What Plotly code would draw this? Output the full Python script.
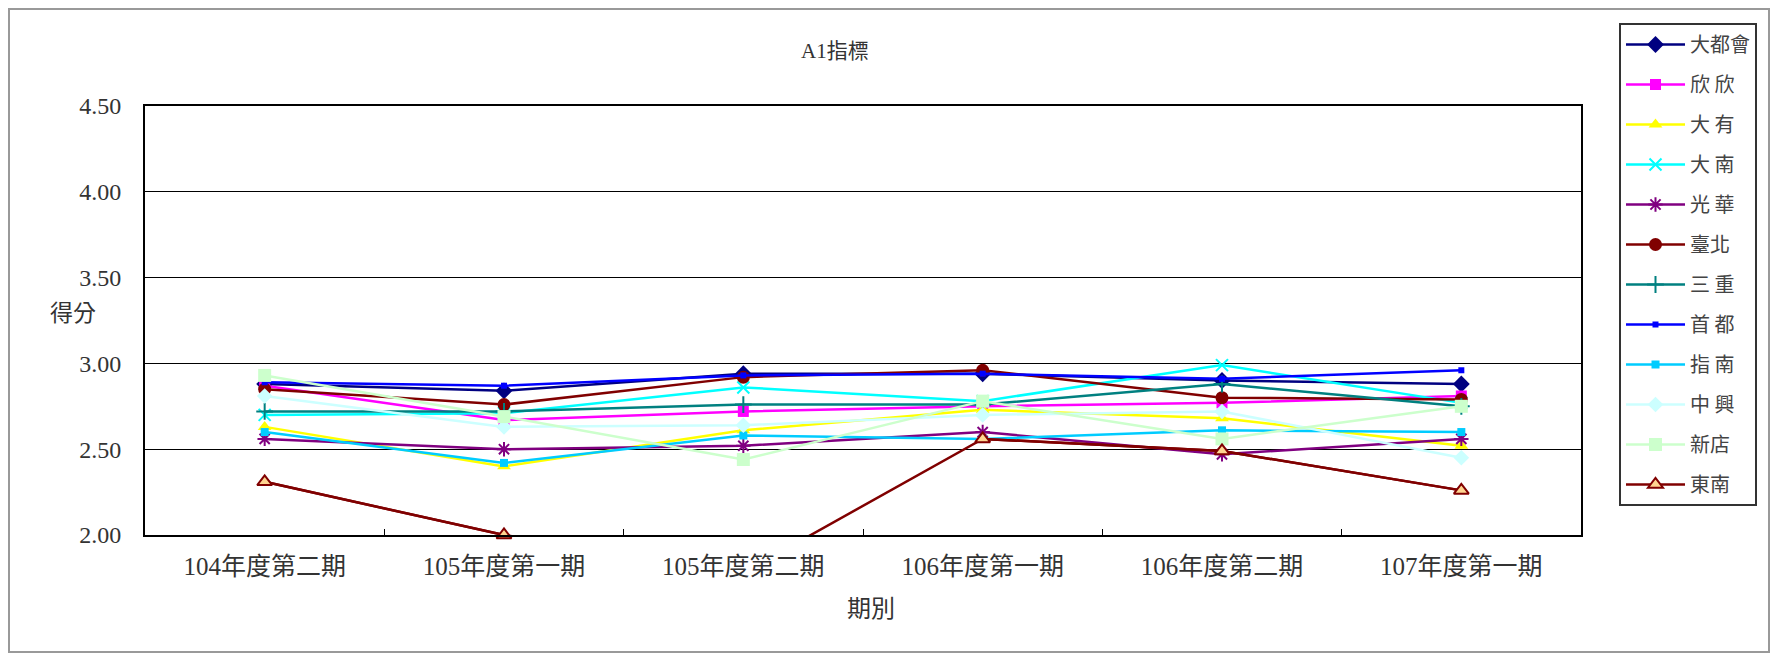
import plotly.graph_objects as go

periods = ["104年度第二期", "105年度第一期", "105年度第二期", "106年度第一期", "106年度第二期", "107年度第一期"]

names = ["大都會", "欣 欣", "大 有", "大 南", "光 華", "臺北", "三 重", "首 都", "指 南", "中 興", "新店", "東南"]

v_dadouhui = [2.88, 2.84, 2.94, 2.94, 2.90, 2.88]
v_xinxin   = [2.87, 2.67, 2.72, 2.75, 2.77, 2.81]
v_dayou    = [2.63, 2.40, 2.61, 2.73, 2.68, 2.52]
v_danan    = [2.70, 2.71, 2.86, 2.78, 2.99, 2.77]
v_guanghua = [2.56, 2.50, 2.52, 2.60, 2.47, 2.56]
v_taipei   = [2.85, 2.76, 2.92, 2.96, 2.80, 2.79]
v_sanchong = [2.72, 2.72, 2.76, 2.76, 2.88, 2.75]
v_shoudu   = [2.89, 2.87, 2.93, 2.94, 2.91, 2.96]
v_zhinan   = [2.60, 2.42, 2.58, 2.56, 2.61, 2.60]
v_zhongxing= [2.81, 2.63, 2.64, 2.70, 2.72, 2.45]
v_xindian  = [2.93, 2.69, 2.44, 2.78, 2.56, 2.75]
v_dongnan  = [2.31, 2.00, 1.78, 2.56, 2.49, 2.26]

series_values = [v_dadouhui, v_xinxin, v_dayou, v_danan, v_guanghua, v_taipei,
                 v_sanchong, v_shoudu, v_zhinan, v_zhongxing, v_xindian, v_dongnan]

colors = ["#000080", "#FF00FF", "#FFFF00", "#00FFFF", "#800080", "#800000",
          "#008080", "#0000FF", "#00CCFF", "#CCFFFF", "#CCFFCC", "#800000"]
symbols = ["diamond", "square", "triangle-up", "x-thin-open", "asterisk-open", "circle",
           "cross-thin-open", "square", "square", "diamond", "square", "triangle-up"]
msizes = [13, 11, 12, 12, 12, 13, 12, 6, 8, 12, 13, 13]

FONT = "Liberation Serif, Noto Sans CJK TC, serif"
TXT = "#333333"

fig = go.Figure()
for i, (nm, vals) in enumerate(zip(names, series_values)):
    col = colors[i]
    sym = symbols[i]
    if nm == "東南":
        fig.add_trace(go.Scatter(x=periods, y=vals, mode="lines",
                                 line=dict(color=col, width=2.5),
                                 showlegend=False, hoverinfo="skip",
                                 cliponaxis=True, legendgroup="g%d" % i))
        shown = [v if v >= 2.0 else None for v in vals]
        fig.add_trace(go.Scatter(x=periods, y=shown, mode="lines+markers", name=nm,
                                 line=dict(color=col, width=2.5),
                                 marker=dict(symbol=sym, size=msizes[i], color="#FFD591",
                                             line=dict(color=col, width=2)),
                                 cliponaxis=False, connectgaps=False, legendgroup="g%d" % i))
    else:
        if sym.endswith("-open"):
            mk = dict(symbol=sym, size=msizes[i], color=col, line=dict(color=col, width=2))
        else:
            mk = dict(symbol=sym, size=msizes[i], color=col, line=dict(width=0))
        fig.add_trace(go.Scatter(x=periods, y=vals, mode="lines+markers", name=nm,
                                 line=dict(color=col, width=2.5), marker=mk,
                                 legendgroup="g%d" % i))

# page has an 8px body margin; work in page coordinates and shift
OFF = 8
W, H = 1778 - 2 * OFF, 661 - 2 * OFF
L, R, T, B = 145 - OFF, 1581 - OFF, 106 - OFF, 535 - OFF
pw, ph = R - L, B - T

def px(x):
    return (x - OFF - L) / pw

def py(y):
    return (B - (y - OFF)) / ph

fig.update_layout(
    width=W, height=H,
    margin=dict(l=L, r=W - R, t=T, b=H - B, pad=0),
    paper_bgcolor="white", plot_bgcolor="white",
    font=dict(family=FONT, size=17, color=TXT),
    showlegend=True,
    legend=dict(x=px(1619), y=py(23), xanchor="left", yanchor="top",
                bgcolor="white", bordercolor="#333333", borderwidth=2,
                font=dict(family="Noto Sans CJK TC, sans-serif", size=20, color="#444444"),
                tracegroupgap=11, itemwidth=59, maxheight=620),
    xaxis=dict(type="category", range=[-0.5, 5.5], showline=True, linecolor="black",
               linewidth=2, mirror=True, showgrid=False, ticks="inside", ticklen=6,
               tickcolor="black", tickson="boundaries", ticklabelstandoff=8,
               tickfont=dict(family=FONT, size=25, color=TXT)),
    yaxis=dict(range=[2.0, 4.5], dtick=0.5, tick0=2.0, tickformat=".2f", showline=True,
               linecolor="black", linewidth=2, mirror=True, showgrid=True,
               gridcolor="black", gridwidth=1, ticks="", ticklabelstandoff=17,
               zeroline=False,
               tickfont=dict(family=FONT, size=24, color=TXT)),
    annotations=[
        dict(text="A1指標", x=px(835), y=py(51), xref="paper", yref="paper",
             xanchor="center", yanchor="middle",
             showarrow=False, font=dict(family=FONT, size=21, color=TXT)),
        dict(text="得分", x=px(73), y=py(313), xref="paper", yref="paper",
             xanchor="center", yanchor="middle",
             showarrow=False, font=dict(family=FONT, size=23, color=TXT)),
        dict(text="期別", x=px(871), y=py(609), xref="paper", yref="paper",
             xanchor="center", yanchor="middle",
             showarrow=False, font=dict(family=FONT, size=24, color=TXT)),
    ],
    shapes=[
        dict(type="rect", xref="paper", yref="paper", x0=px(9), x1=px(1769),
             y0=py(652), y1=py(9), line=dict(color="#999999", width=2), layer="below"),
    ],
)

fig.write_html("out.html")
